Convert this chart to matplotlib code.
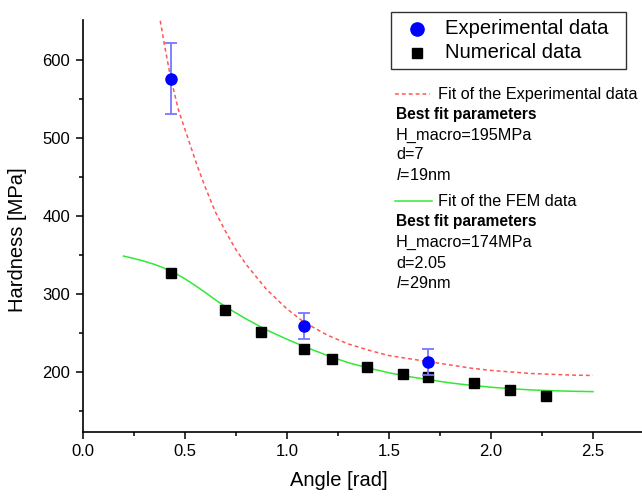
import matplotlib
matplotlib.use("Agg")
import matplotlib.pyplot as plt
from matplotlib.lines import Line2D
from matplotlib.patches import Rectangle

plt.rcParams['font.family'] = ['Liberation Sans', 'DejaVu Sans']
plt.rcParams['mathtext.fontset'] = 'custom'
plt.rcParams['mathtext.rm'] = 'Liberation Sans'
plt.rcParams['mathtext.it'] = 'Liberation Sans:italic'

# Experimental data
exp_angle = [0.434, 1.083, 1.693]
exp_hard = [576, 259, 213]
exp_err = [45, 17, 17]

# Numerical (FEM) data
num_angle = [0.434, 0.699, 0.872, 1.083, 1.222, 1.395, 1.570, 1.693, 1.918, 2.095, 2.270]
num_hard = [327, 279, 251, 230, 216, 207, 197, 193, 186, 177, 169]

fit_exp_x = [0.38, 0.40, 0.43, 0.47, 0.515, 0.56, 0.60, 0.65, 0.70, 0.75, 0.80, 0.90,
             1.00, 1.083, 1.20, 1.30, 1.40, 1.50, 1.60, 1.70, 1.80, 1.90, 2.00, 2.10,
             2.20, 2.30, 2.40, 2.50]
fit_exp_y = [650, 620, 578, 535, 500, 465, 437, 405, 380, 357, 338, 306,
             281, 264, 247, 236, 228, 221, 217, 213, 209, 205, 202, 200,
             198, 197, 196, 195.5]

# Fit of the FEM data
fit_fem_x = [0.20, 0.25, 0.30, 0.35, 0.40, 0.45, 0.50, 0.55, 0.60, 0.65, 0.70, 0.80,
             0.90, 1.00, 1.10, 1.20, 1.30, 1.40, 1.50, 1.60, 1.70, 1.80, 1.90, 2.00,
             2.10, 2.20, 2.30, 2.40, 2.50]
fit_fem_y = [348.5, 345.5, 342, 338, 333, 327, 319.5, 311, 302, 292.5, 283.5, 268,
             254, 242, 231, 221, 212, 205, 199, 194, 190, 186, 183, 180.5,
             178.5, 177, 176, 175.3, 174.8]

legend_labels = ['Experimental data', 'Numerical data']

RED = '#ff5555'
GREEN = '#33e833'

fig = plt.figure(figsize=(6.42, 4.97), dpi=100)
ax = fig.add_axes([0.1288, 0.1314, 0.8712, 0.8284])

ax.plot(fit_exp_x, fit_exp_y, color=RED, lw=1.1, dashes=(2.5, 2.0), zorder=2)
ax.plot(fit_fem_x, fit_fem_y, color=GREEN, lw=1.1, zorder=2)
ax.plot(num_angle, num_hard, 's', color='black', ms=7, zorder=3)
ax.errorbar(exp_angle, exp_hard, yerr=exp_err, fmt='none', ecolor='#7777ff',
            elinewidth=1.3, capsize=4, capthick=1.3, zorder=4)
ax.plot(exp_angle, exp_hard, 'o', color='#0000ff', ms=8, zorder=5)

ax.set_xlim(0, 2.74)
ax.set_ylim(123.5, 651)
ax.set_xticks([0.0, 0.5, 1.0, 1.5, 2.0, 2.5])
ax.set_xticks([0.25, 0.75, 1.25, 1.75, 2.25], minor=True)
ax.set_yticks([200, 300, 400, 500, 600])
ax.set_yticks([150, 250, 350, 450, 550], minor=True)
ax.tick_params(which='major', direction='out', length=5, width=1.1, labelsize=12,
               colors='black', pad=4)
ax.tick_params(which='minor', direction='out', length=2.9, width=1.1)
for s in ['top', 'right']:
    ax.spines[s].set_visible(False)
for s in ['left', 'bottom']:
    ax.spines[s].set_linewidth(1.2)

ax.set_xlabel('Angle [rad]', fontsize=14.5, labelpad=8)
ax.xaxis.set_label_coords(0.458, -0.095)
ax.set_ylabel('Hardness [MPa]', fontsize=14.5, labelpad=8)
ax.yaxis.set_label_coords(-0.1, 0.466)

def fx(px):
    return px / 642

def fy(py):
    return 1 - py / 497

# Legend box (drawn manually to match layout)
fig.add_artist(Rectangle((fx(390.7), fy(69)), fx(625.7) - fx(390.7), fy(11.7) - fy(69),
                         fill=False, edgecolor='#333333', lw=1.0))
fig.add_artist(Line2D([fx(416.7)], [fy(29)], marker='o', color='#0000ff', ms=9.5, ls='none'))
fig.add_artist(Line2D([fx(416.7)], [fy(53)], marker='s', color='black', ms=7, ls='none'))
fig.text(fx(445), fy(29), legend_labels[0], fontsize=14.6, va='center')
fig.text(fx(445), fy(53), legend_labels[1], fontsize=14.6, va='center')

# Annotations
FS = 11.7
FSB = 11.2
fig.add_artist(Line2D([fx(395), fx(430)], [fy(94.3), fy(94.3)], color=RED,
                      lw=1.1, dashes=(2.5, 2.0)))
fig.text(fx(438), fy(94.3), 'Fit of the Experimental data', fontsize=FS, va='center')
fig.text(fx(396), fy(115), 'Best fit parameters', fontsize=FSB, fontweight='bold', va='center')
fig.text(fx(396), fy(135), 'H_macro=195MPa', fontsize=FS, va='center')
fig.text(fx(396), fy(155), 'd=7', fontsize=FS, va='center')
fig.text(fx(396), fy(175), r'$l$=19nm', fontsize=FS, va='center')

fig.add_artist(Line2D([fx(395), fx(432)], [fy(201), fy(201)], color=GREEN, lw=1.1))
fig.text(fx(438), fy(201), 'Fit of the FEM data', fontsize=FS, va='center')
fig.text(fx(396), fy(221.7), 'Best fit parameters', fontsize=FSB, fontweight='bold', va='center')
fig.text(fx(396), fy(242.7), 'H_macro=174MPa', fontsize=FS, va='center')
fig.text(fx(396), fy(263.3), 'd=2.05', fontsize=FS, va='center')
fig.text(fx(396), fy(283.3), r'$l$=29nm', fontsize=FS, va='center')

fig.savefig('out.png', dpi=100)
